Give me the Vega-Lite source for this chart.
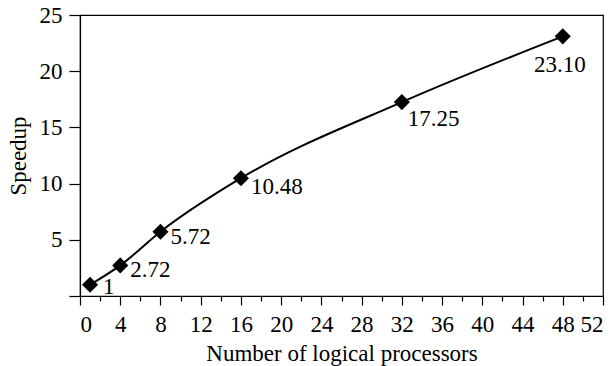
{
  "$schema": "https://vega.github.io/schema/vega-lite/v6.json",
  "width": 523,
  "height": 281,
  "autosize": {"type": "none"},
  "padding": {"left": 80, "top": 15, "right": 13, "bottom": 70},
  "background": "white",
  "config": {
    "font": "Liberation Serif",
    "view": {"stroke": "black", "strokeWidth": 1.2},
    "axis": {
      "domainColor": "black",
      "tickColor": "black",
      "labelColor": "black",
      "titleColor": "black",
      "labelFont": "Liberation Serif",
      "titleFont": "Liberation Serif",
      "labelFontSize": 23,
      "titleFontSize": 23,
      "titleFontWeight": "normal",
      "grid": false,
      "domainWidth": 1.2,
      "tickWidth": 1.2
    }
  },
  "data": {
    "values": [
      {"p": 1, "s": 1, "lab": "1"},
      {"p": 4, "s": 2.72, "lab": "2.72"},
      {"p": 8, "s": 5.72, "lab": "5.72"},
      {"p": 16, "s": 10.48, "lab": "10.48"},
      {"p": 32, "s": 17.25, "lab": "17.25"},
      {"p": 48, "s": 23.1, "lab": "23.10"}
    ]
  },
  "resolve": {"axis": {"x": "independent", "y": "independent"}},
  "layer": [
    {
      "mark": {"type": "line", "interpolate": "monotone", "color": "black", "strokeWidth": 2},
      "encoding": {
        "x": {"field": "p", "type": "quantitative", "scale": {"domain": [0, 52], "nice": false, "zero": false}, "axis": {"orient": "bottom", "values": [0,4,8,12,16,20,24,28,32,36,40,44,48,52], "tickSize": 9, "labelPadding": 8, "title": "Number of logical processors", "titlePadding": 6}},
        "y": {"field": "s", "type": "quantitative", "scale": {"domain": [0, 25], "nice": false}, "axis": {"orient": "left", "values": [0,5,10,15,20,25], "labelExpr": "datum.value == 0 ? '' : datum.label", "tickSize": 11, "labelPadding": 7, "title": "Speedup", "titlePadding": 9}}
      }
    },
    {
      "mark": {"type": "point", "shape": "diamond", "filled": true, "color": "black", "size": 260, "opacity": 1},
      "encoding": {
        "x": {"field": "p", "type": "quantitative", "axis": {"orient": "bottom", "values": [2,6,10,14,18,22,26,30,34,38,42,46,50], "labels": false, "tickSize": 5, "domain": false, "title": null}},
        "y": {"field": "s", "type": "quantitative", "axis": null}
      }
    },
    {
      "transform": [{"filter": "datum.p == 1"}],
      "mark": {"type": "text", "align": "left", "baseline": "middle", "dx": 13, "dy": 2, "fontSize": 23, "color": "black"},
      "encoding": {"x": {"field": "p", "type": "quantitative", "axis": null}, "y": {"field": "s", "type": "quantitative", "axis": null}, "text": {"field": "lab"}}
    },
    {
      "transform": [{"filter": "datum.p == 4 || datum.p == 8"}],
      "mark": {"type": "text", "align": "left", "baseline": "middle", "dx": 10, "dy": 5, "fontSize": 23, "color": "black"},
      "encoding": {"x": {"field": "p", "type": "quantitative", "axis": null}, "y": {"field": "s", "type": "quantitative", "axis": null}, "text": {"field": "lab"}}
    },
    {
      "transform": [{"filter": "datum.p == 16"}],
      "mark": {"type": "text", "align": "left", "baseline": "middle", "dx": 10, "dy": 9, "fontSize": 23, "color": "black"},
      "encoding": {"x": {"field": "p", "type": "quantitative", "axis": null}, "y": {"field": "s", "type": "quantitative", "axis": null}, "text": {"field": "lab"}}
    },
    {
      "transform": [{"filter": "datum.p == 32"}],
      "mark": {"type": "text", "align": "left", "baseline": "middle", "dx": 6, "dy": 17, "fontSize": 23, "color": "black"},
      "encoding": {"x": {"field": "p", "type": "quantitative", "axis": null}, "y": {"field": "s", "type": "quantitative", "axis": null}, "text": {"field": "lab"}}
    },
    {
      "transform": [{"filter": "datum.p == 48"}],
      "mark": {"type": "text", "align": "center", "baseline": "middle", "dx": -3, "dy": 29, "fontSize": 23, "color": "black"},
      "encoding": {"x": {"field": "p", "type": "quantitative", "axis": null}, "y": {"field": "s", "type": "quantitative", "axis": null}, "text": {"field": "lab"}}
    }
  ]
}
